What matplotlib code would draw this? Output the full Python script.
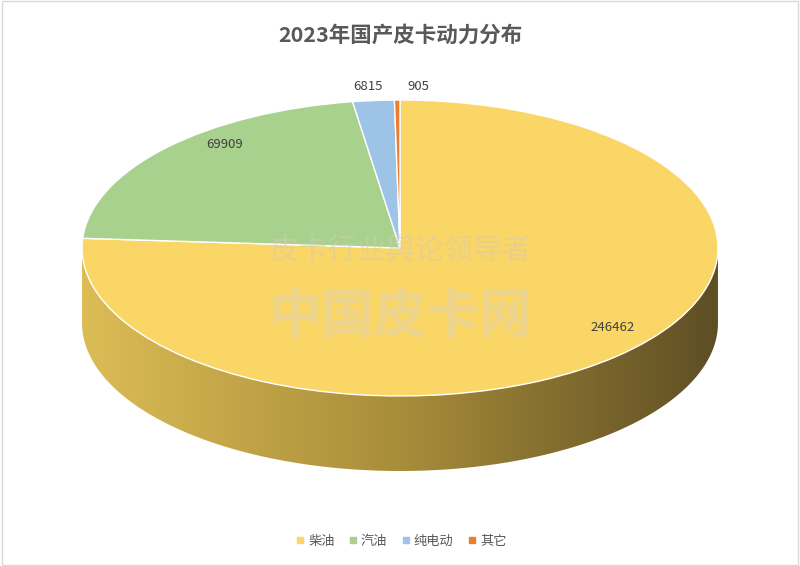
import numpy as np
import matplotlib
matplotlib.use("Agg")
import matplotlib.pyplot as plt
from matplotlib.patches import Polygon, Rectangle
from matplotlib.colors import LinearSegmentedColormap

plt.rcParams["font.family"] = ["Noto Sans CJK SC", "DejaVu Sans"]

categories = ["柴油", "汽油", "纯电动", "其它"]
values = [246462, 69909, 6815, 905]
colors = ["#F9D666", "#A9D18E", "#9DC3E6", "#ED7D31"]
label_pos = [(0.67, -0.54), (-0.55, 0.70), (-0.10, 1.09), (0.057, 1.09)]

fig = plt.figure(figsize=(8, 5.66), dpi=100)
ax = fig.add_axes([0, 0, 1, 1])
ax.axis("off")

# side of the cylinder (front half), gradient fill
depth = 0.507
t = np.linspace(np.pi, 2 * np.pi, 200)
top = np.column_stack([np.cos(t), np.sin(t)])
bot = np.column_stack([np.cos(t[::-1]), np.sin(t[::-1]) - depth])
side = Polygon(np.vstack([top, bot]), closed=True, facecolor="none", edgecolor="none")
ax.add_patch(side)
cmap = LinearSegmentedColormap.from_list("side", ["#DCBC55", "#A88D3A", "#5E4E24"])
grad = np.linspace(0, 1, 256).reshape(1, -1)
im = ax.imshow(grad, cmap=cmap, extent=[-1, 1, -1 - depth, 0.1], aspect="auto", zorder=1)
im.set_clip_path(side)

wedges, _ = ax.pie(values, colors=colors, startangle=90, counterclock=False,
                   radius=1, wedgeprops=dict(edgecolor="white", linewidth=1), frame=False)
for w in wedges:
    w.set_zorder(2)
ax.set_aspect("auto")
ax.set_xlim(-1.258, 1.258)
ax.set_ylim(-2.149, 1.676)

for v, (x, y) in zip(values, label_pos):
    ax.text(x, y, str(v), ha="center", va="center", fontsize=9.5, color="#404040", zorder=5)

# watermark
fig.text(0.5, 0.555, "皮卡行业舆论领导者", ha="center", va="center", fontsize=21,
         color="#D8CCB0", alpha=0.5, style="italic", zorder=6)
fig.text(0.5, 0.44, "中国皮卡网", ha="center", va="center", fontsize=38,
         color="#E0D4B4", alpha=0.5, fontweight="bold", zorder=6)

fig.text(0.5, 0.938, "2023年国产皮卡动力分布", ha="center", va="center",
         fontsize=15.5, fontweight="bold", color="#595959")

handles = [plt.Line2D([], [], marker="s", linestyle="", markersize=5, color=c) for c in colors]
fig.legend(handles, categories, loc="center", bbox_to_anchor=(0.5, 0.044), ncol=4,
           frameon=False, fontsize=9.5, handletextpad=0.1, columnspacing=0.9,
           handlelength=1.0, labelcolor="#595959")

fig.add_artist(Rectangle((0.002, 0.002), 0.996, 0.996, transform=fig.transFigure,
                         fill=False, edgecolor="#D9D9D9", linewidth=1))

fig.savefig("out.png", dpi=100, facecolor="white")
